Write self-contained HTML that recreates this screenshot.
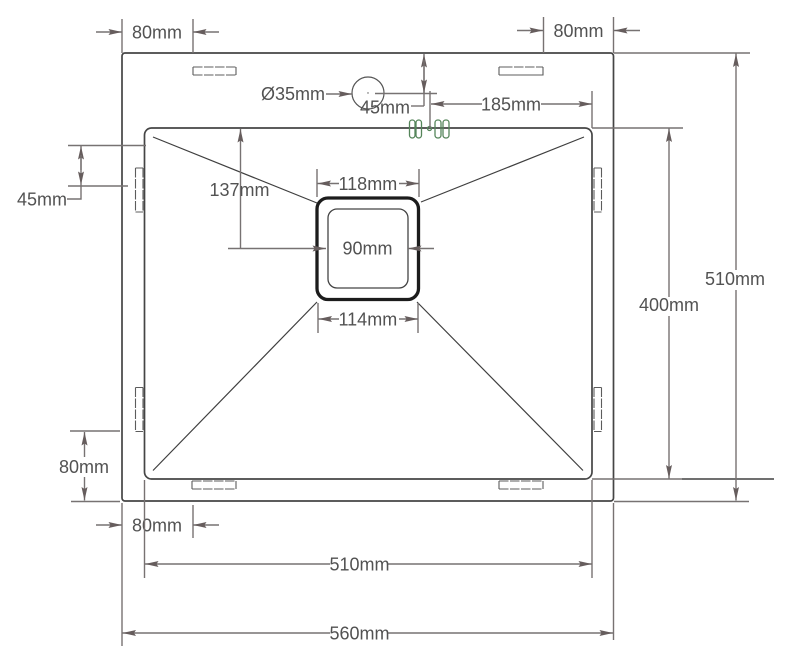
<!DOCTYPE html>
<html>
<head>
<meta charset="utf-8">
<style>
html,body{margin:0;padding:0;background:#fff;width:794px;height:654px;overflow:hidden}
svg{display:block}
text{font-family:"Liberation Sans",sans-serif;font-size:18px;fill:#525252}
.d{stroke:#777272;stroke-width:1.4;fill:none}
.a{stroke:#777272;stroke-width:1.4;fill:none;marker-end:url(#ah)}
.o{stroke:#454545;stroke-width:1.7;fill:none}
.s{stroke:#5c5c5c;stroke-width:1.1;fill:none}
.g{stroke:#55855a;stroke-width:1.3;fill:none}
</style>
</head>
<body>
<svg width="794" height="654" viewBox="0 0 794 654" xmlns="http://www.w3.org/2000/svg">
<defs>
<marker id="ah" markerUnits="userSpaceOnUse" markerWidth="14" markerHeight="7" refX="13.5" refY="3.5" orient="auto">
<path d="M0,0.5 L13.5,3.5 L0,6.500 L2,3.500 Z" fill="#665d5d"/>
</marker>
</defs>

<!-- outer and inner outline -->
<rect class="o" x="122" y="53" width="491.500" height="448" rx="3"/>
<rect class="o" x="144.500" y="128" width="447.500" height="351" rx="7"/>

<!-- slots: solid ends, dashed long edges -->
<g class="s">
<path d="M193,67 V75 M236,67 V75" />
<path d="M193,67 H236 M193,75 H236" stroke-dasharray="9.500 1.500"/>
<path d="M499,67 H503 M543,67 V75 H499 M499,67 V75" />
<path d="M503,67 H543" stroke-dasharray="9.500 1.500"/>
<path d="M192,481 V489 M236,481 V489" />
<path d="M192,481 H236 M192,489 H236" stroke-dasharray="9.500 1.500"/>
<path d="M499,481 V489 M543,481 V489" />
<path d="M499,481 H543 M499,489 H543" stroke-dasharray="9.500 1.500"/>
<path d="M135.500,168 H143 M135.500,212 H143" />
<path d="M135.500,168 V212 M143,168 V212" stroke-dasharray="9.500 1.500"/>
<path d="M135.500,387.500 H143 M135.500,431.500 H143" />
<path d="M135.500,387.500 V431.500 M143,387.500 V431.500" stroke-dasharray="9.500 1.500"/>
<path d="M594,168 H601.500 M594,212 H601.500" />
<path d="M594,168 V212 M601.500,168 V212" stroke-dasharray="9.500 1.500"/>
<path d="M594,387.500 H601.500 M594,431.500 H601.500" />
<path d="M594,387.500 V431.500 M601.500,387.500 V431.500" stroke-dasharray="9.500 1.500"/>
</g>

<!-- diagonals -->
<path d="M153,137 L317,203 M584,137 L421,202 M153,470.500 L317,302 M583,470.500 L417,302" stroke="#3f3f3f" stroke-width="1.2" fill="none"/>

<!-- bowl -->
<rect x="317" y="198" width="101.500" height="101.500" rx="11" fill="#fff" stroke="#1c1c1c" stroke-width="3.300"/>
<rect x="328" y="209" width="80" height="79" rx="9" fill="none" stroke="#444" stroke-width="1.300"/>

<!-- tap hole -->
<circle cx="368" cy="93" r="16" fill="none" stroke="#555" stroke-width="1.200"/>
<circle cx="368" cy="93" r="0.700" fill="#555"/>

<!-- green overflow -->
<rect class="g" x="409.500" y="120" width="5.500" height="18" rx="2.700"/>
<rect class="g" x="416" y="120" width="5.500" height="18" rx="2.700"/>
<circle class="g" cx="429.500" cy="128.500" r="2"/>
<rect class="g" x="435" y="120" width="6" height="18" rx="2.700"/>
<rect class="g" x="443" y="120" width="6" height="18" rx="2.700"/>

<!-- top-left 80mm -->
<path class="d" d="M122,19 V53 M193,19 V53"/>
<path class="a" d="M96,32 H122"/>
<path class="a" d="M219,32 H193"/>
<text x="132" y="38.500">80mm</text>

<!-- top-right 80mm -->
<path class="d" d="M543.500,17 V53 M613.500,17 V53"/>
<path class="a" d="M517,30.500 H543"/>
<path class="a" d="M640,30.500 H614"/>
<text x="553.500" y="37">80mm</text>

<!-- Ø35 -->
<text x="261" y="100">Ø35mm</text>
<path class="a" d="M326,94 H352"/>

<!-- 45mm top -->
<text x="360" y="113.500">45mm</text>
<path class="d" d="M411,106 H424"/>
<path class="d" d="M375,93.500 H437 M430,91 V128 M592,91 V128"/>
<path class="a" d="M424,106 V54"/>
<path class="a" d="M424,60 V93"/>

<!-- 185mm -->
<text x="481" y="110.500">185mm</text>
<path class="a" d="M482,104 H431"/>
<path class="a" d="M541,104 H592"/>

<!-- left 45mm -->
<path class="d" d="M68,145.500 H146 M68,186 H128"/>
<path class="a" d="M81,170 V146"/>
<path class="a" d="M81,155 V185"/>
<path class="d" d="M81,185 V199 H67"/>
<text x="17" y="205.500">45mm</text>

<!-- 137mm -->
<path class="a" d="M240.500,248 V129"/>
<path class="a" d="M228,248.500 H326"/>
<path class="a" d="M434,248.500 H408"/>
<text x="209.500" y="196">137mm</text>
<text x="342.500" y="254.500">90mm</text>

<!-- 118mm -->
<path class="d" d="M317,169 V197 M419,169 V197"/>
<path class="a" d="M339,183.500 H317.500"/>
<path class="a" d="M399,183.500 H419"/>
<text x="338.500" y="190">118mm</text>

<!-- 114mm -->
<path class="d" d="M318,303 V333 M418,303 V333"/>
<path class="a" d="M339,319 H318.500"/>
<path class="a" d="M399,319 H418"/>
<text x="338.500" y="325.500">114mm</text>

<!-- lower left 80mm -->
<path class="d" d="M70,431 H120 M71,501.500 H120"/>
<path class="a" d="M84.500,457 V432"/>
<path class="a" d="M84.500,477 V500.500"/>
<text x="59" y="473">80mm</text>

<!-- bottom 80mm -->
<path class="d" d="M193,505 V538"/>
<path class="a" d="M96,525 H122"/>
<path class="a" d="M219,525 H193"/>
<text x="132" y="531.500">80mm</text>

<!-- extension lines -->
<path class="d" d="M122,503 V646 M613.500,503 V640 M144.500,480 V578 M592,480 V578"/>
<path class="d" d="M592,128 H683 M592,479 H682 M614,501.500 H749 M614,53 H750"/>
<path d="M682,479 H774" stroke="#5c5c5c" stroke-width="1.700" fill="none"/>

<!-- 510mm / 560mm horizontal -->
<path class="a" d="M330,564 H145"/>
<path class="a" d="M388,564 H592"/>
<text x="329.500" y="570.500">510mm</text>
<path class="a" d="M330,633 H122.500"/>
<path class="a" d="M388,633 H613"/>
<text x="329.500" y="639.500">560mm</text>

<!-- 400mm vertical -->
<path class="a" d="M669,297 V128.500"/>
<path class="a" d="M669,316 V478.500"/>
<text x="639" y="311">400mm</text>

<!-- 510mm vertical -->
<path class="a" d="M736,270 V53.500"/>
<path class="a" d="M736,290 V500.500"/>
<text x="705" y="285">510mm</text>
</svg>
</body>
</html>
